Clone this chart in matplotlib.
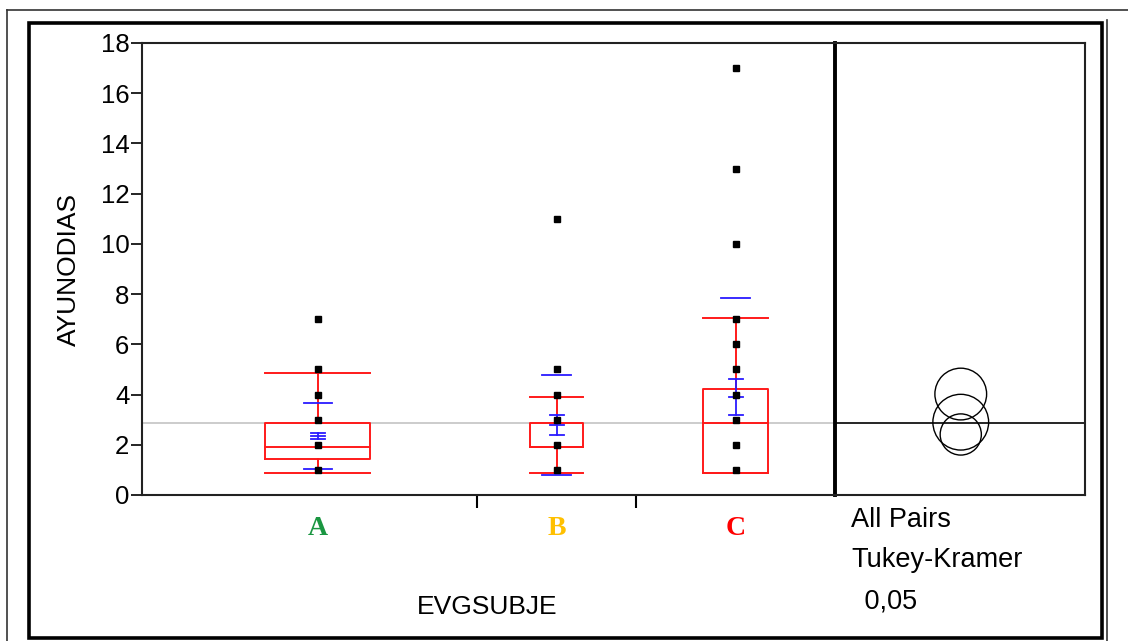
import matplotlib
matplotlib.use("Agg")
import matplotlib.pyplot as plt
from matplotlib.lines import Line2D
from matplotlib.patches import Circle

# ---- data ----
groups = ["A", "B", "C"]
group_colors = ["#1a9641", "#ffc000", "#ff0000"]
group_n = [32, 16, 20]          # drives the width of each group on the x axis

points = {
    "A": [1, 2, 3, 4, 5, 7],
    "B": [1, 2, 3, 4, 5, 11],
    "C": [1, 2, 3, 4, 5, 6, 7, 10, 13, 17],
}

# quantile box: whisker low, q1, median, q3, whisker high
whisker_lo = [0.89, 0.86, 0.89]
q1 = [1.43, 1.91, 0.89]
median = [1.93, 1.91, 2.86]
q3 = [2.86, 2.85, 4.22]
whisker_hi = [4.87, 3.92, 7.04]

# means with error bars and std dev lines
means = [2.35, 2.79, 3.92]
se_lo = [2.23, 2.39, 3.19]
se_hi = [2.46, 3.19, 4.62]
sd_lo = [1.04, 0.80, 0.00]
sd_hi = [3.68, 4.79, 7.84]

grand_mean = 2.86

# Tukey-Kramer comparison circles: centre and radius (y units)
circle_centers = [2.41, 2.90, 4.02]
circle_radii = [0.82, 1.11, 1.03]

yticks = [0, 2, 4, 6, 8, 10, 12, 14, 16, 18]

W, H = 1128, 641
fig = plt.figure(figsize=(W / 100, H / 100), dpi=100)
plt.rcParams["font.family"] = ["Liberation Sans", "DejaVu Sans"]


def fx(px):
    return px / W


def fy(py):
    return 1 - py / H


# outer frames
fig.add_artist(Line2D([fx(7), 1], [fy(10), fy(10)], color="#333333", lw=1.2))
fig.add_artist(Line2D([fx(7), fx(7)], [fy(10), 0], color="#333333", lw=1.2))
fig.add_artist(Line2D([fx(1107), fx(1107)], [fy(20), 0], color="#333333", lw=1.2))
fig.add_artist(plt.Rectangle((fx(29), fy(638)), fx(1102) - fx(29), fy(23) - fy(638),
                             fill=False, ec="black", lw=2.6, transform=fig.transFigure))

ax_left, ax_right, ax_bottom, ax_top = 142, 835, 495, 43
ax = fig.add_axes([fx(ax_left), fy(ax_bottom), fx(ax_right) - fx(ax_left), fy(ax_top) - fy(ax_bottom)])
ax2 = fig.add_axes([fx(ax_right), fy(ax_bottom), fx(1085) - fx(ax_right), fy(ax_top) - fy(ax_bottom)])
ax2.patch.set_visible(False)

# group positions proportional to n
edges = [0]
for n in group_n:
    edges.append(edges[-1] + n)
centers = [(edges[i] + edges[i + 1]) / 2 for i in range(len(groups))]

pad = 1.7
ax.set_xlim(-pad, edges[-1])
ax.set_ylim(0, 18)

ax.axhline(grand_mean, color="#c8c8c8", lw=1.3, zorder=1)

sd_half = 1.45
cap_half = 0.7
red = "#ff1a1a"
blue = "#2a1aff"
for i, g in enumerate(groups):
    c = centers[i]
    bw = 0.33 * group_n[i] / 2
    # box
    ax.plot([c - bw, c + bw, c + bw, c - bw, c - bw], [q1[i], q1[i], q3[i], q3[i], q1[i]],
            color=red, lw=1.4, zorder=2)
    ax.plot([c - bw, c + bw], [median[i], median[i]], color=red, lw=1.4, zorder=2)
    # whiskers
    ax.plot([c, c], [q3[i], whisker_hi[i]], color=red, lw=1.4, zorder=2)
    ax.plot([c, c], [whisker_lo[i], q1[i]], color=red, lw=1.4, zorder=2)
    ax.plot([c - bw, c + bw], [whisker_hi[i]] * 2, color=red, lw=1.4, zorder=2)
    ax.plot([c - bw, c + bw], [whisker_lo[i]] * 2, color=red, lw=1.4, zorder=2)
    # blue mean error bars and std dev lines
    ax.plot([c, c], [se_lo[i], se_hi[i]], color=blue, lw=1.3, zorder=3)
    for yv in (se_lo[i], means[i], se_hi[i]):
        ax.plot([c - cap_half, c + cap_half], [yv, yv], color=blue, lw=1.3, zorder=3)
    for yv in (sd_lo[i], sd_hi[i]):
        if yv > 0:
            ax.plot([c - sd_half, c + sd_half], [yv, yv], color=blue, lw=1.3, zorder=3)
    # points
    ax.plot([c] * len(points[g]), points[g], "s", color="black", ms=3.8, zorder=4)

ax.set_yticks(yticks)
ax.set_yticklabels([str(t) for t in yticks], fontsize=18.5)
ax.tick_params(axis="y", direction="out", length=8, width=1.2, pad=1, colors="black")
ax.set_xticks(edges[1:-1])
ax.set_xticklabels([])
ax.tick_params(axis="x", direction="out", length=9, width=1.5)
for s in ["top", "left", "bottom"]:
    ax.spines[s].set_linewidth(1.5)
    ax.spines[s].set_color("#222222")
ax.spines["right"].set_linewidth(2.8)
ax.spines["right"].set_color("black")

for i, g in enumerate(groups):
    ax.text(centers[i], -1.35, g, color=group_colors[i], ha="center", va="center",
            fontsize=20, fontweight="bold", family=["Liberation Serif", "DejaVu Serif"])

ax.set_ylabel("AYUNODIAS", fontsize=19, labelpad=14)
fig.text(fx(487), fy(607), "EVGSUBJE", fontsize=19, ha="center", va="center")

# comparison circles panel
panel_w = 1085 - ax_right
px_per_unit = (ax_bottom - ax_top) / 18
xspan = panel_w / px_per_unit
ax2.set_xlim(0, xspan)
ax2.set_ylim(0, 18)
ax2.axhline(grand_mean, color="black", lw=1.2)
for yc, r in zip(circle_centers, circle_radii):
    ax2.add_patch(Circle((xspan / 2 + 0.03, yc), r, fill=False, ec="black", lw=1.0))
ax2.set_xticks([])
ax2.set_yticks([])
for s in ["top", "right", "bottom"]:
    ax2.spines[s].set_linewidth(1.5)
    ax2.spines[s].set_color("#222222")
ax2.spines["left"].set_visible(False)

fig.text(fx(851), fy(520), "All Pairs", fontsize=19.5, ha="left", va="center")
fig.text(fx(851), fy(560), "Tukey-Kramer", fontsize=19.5, ha="left", va="center")
fig.text(fx(857), fy(601), " 0,05", fontsize=19.5, ha="left", va="center")

fig.savefig("out.png", dpi=100)
